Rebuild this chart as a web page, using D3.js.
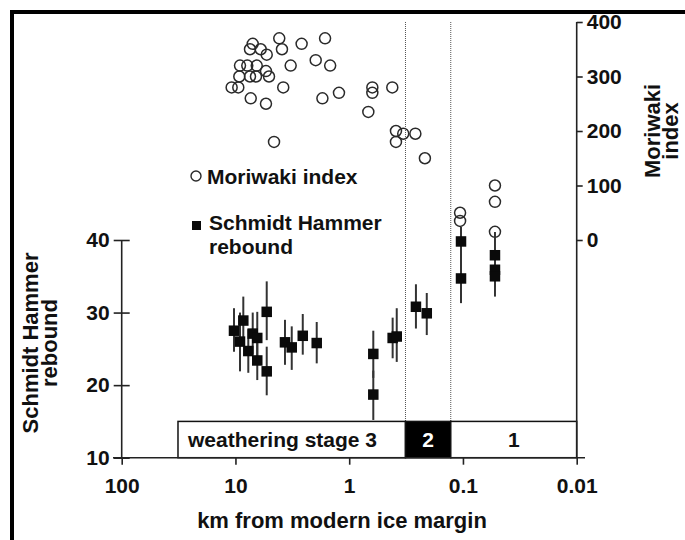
<!DOCTYPE html>
<html>
<head>
<meta charset="utf-8">
<script src="https://cdn.jsdelivr.net/npm/d3@7"></script>
<style>
  body { margin: 0; background: #fff; }
  svg { display: block; font-family: "Liberation Sans", Arial, Helvetica, sans-serif; font-weight: bold; }
  .axis line, .axis-line { stroke: #222; stroke-width: 1.6; }
  .axis text { font-size: 21px; font-weight: bold; fill: #111; }
  .title { font-size: 22px; font-weight: bold; fill: #111; }
</style>
</head>
<body>
<svg></svg>
<script>
const width = 685;
const height = 540;

// Moriwaki index (open circles)
const moriDist = [7.05, 4.12, 1.63, 7.45, 6.0, 5.31, 3.9, 2.62, 9.12, 7.87, 6.5, 3.27, 1.97, 1.47,
    9.25, 7.45, 6.6, 5.07, 5.39, 10.8, 9.44, 3.8, 7.34, 5.39, 1.72, 1.23, 0.626, 0.626, 0.418,
    0.679, 0.388, 0.335, 0.262, 0.388, 4.58, 0.216, 0.106, 0.106, 0.0523, 0.0523, 0.0523];
const moriValue = [360, 370, 370, 350, 350, 340, 350, 360, 320, 320, 320, 320, 330, 320,
    300, 300, 300, 300, 310, 280, 280, 280, 260, 250, 260, 270, 280, 270, 280,
    235, 200, 195, 195, 180, 180, 150, 50, 35, 100, 70, 15];

// Schmidt Hammer rebound (filled squares with range bars)
const shDist = [10.3, 8.53, 9.12, 7.71, 7.05, 6.43, 6.43, 5.31, 5.31, 3.67, 3.2, 2.56, 1.93,
    0.614, 0.614, 0.415, 0.382, 0.259, 0.208, 0.104, 0.104, 0.0523, 0.0523, 0.0523];
const shValue = [27.5, 28.9, 26.0, 24.7, 27.1, 26.5, 23.4, 30.1, 21.9, 25.9, 25.2, 26.8, 25.8,
    24.3, 18.7, 26.5, 26.7, 30.8, 29.9, 39.8, 34.7, 37.9, 35.9, 35.0];
const shLow = [24.6, 25.6, 21.9, 21.7, 24.2, 23.0, 20.7, 26.2, 18.6, 22.8, 22.1, 24.2, 23.0,
    21.0, 15.2, 23.7, 23.2, 27.8, 26.9, 37.5, 31.3, 34.7, 33.5, 32.2];
const shHigh = [30.6, 32.2, 30.0, 27.7, 30.0, 30.1, 26.1, 34.3, 25.3, 29.0, 28.1, 29.8, 28.7,
    27.5, 22.0, 29.3, 30.6, 33.9, 32.7, 41.8, 38.0, 41.1, 38.3, 37.8];

const xTicks = [100, 10, 1, 0.1, 0.01];
const xTickLabels = ["100", "10", "1", "0.1", "0.01"];
const shTicks = [10, 20, 30, 40];
const moriTicks = [0, 100, 200, 300, 400];

// weathering stage bar: boundaries in km, labels per segment
const stageBounds = [32, 0.32, 0.128, 0.01];
const stageLabels = ["weathering stage 3", "2", "1"];
const stageTop = 15;

const svg = d3.select("svg")
    .attr("width", width)
    .attr("height", height);

const x = d3.scaleLog().domain([100, 0.01]).range([121.7, 576.7]);
const yS = d3.scaleLinear().domain([10, 40]).range([457.7, 240]);
const yM = d3.scaleLinear().domain([0, 400]).range([240, 22]);

// frame (cropped on right and bottom)
svg.append("rect")
    .attr("x", 12).attr("y", 12)
    .attr("width", width + 20).attr("height", height + 20)
    .attr("fill", "none")
    .attr("stroke", "#000")
    .attr("stroke-width", 4);

// dotted stage boundaries
svg.selectAll(".stage-line")
    .data(stageBounds.slice(1, 3))
    .join("line")
    .attr("x1", d => x(d)).attr("x2", d => x(d))
    .attr("y1", yM(400)).attr("y2", yS(stageTop))
    .attr("stroke", "#555")
    .attr("stroke-width", 1)
    .attr("stroke-dasharray", "1,1");

// stage box
const stages = stageLabels.map((label, i) => ({ label, x0: stageBounds[i], x1: stageBounds[i + 1], i }));
const stageG = svg.append("g");
stageG.selectAll("rect")
    .data(stages)
    .join("rect")
    .attr("x", d => x(d.x0))
    .attr("width", d => x(d.x1) - x(d.x0))
    .attr("y", yS(stageTop))
    .attr("height", yS(10) - yS(stageTop))
    .attr("fill", d => d.i === 1 ? "#000" : "#fff")
    .attr("stroke", "#111")
    .attr("stroke-width", 1.5);
stageG.selectAll("text")
    .data(stages)
    .join("text")
    .attr("x", d => d.i === 0 ? x(d.x0) + 10 : (x(d.x0) + x(d.x1)) / 2)
    .attr("y", (yS(stageTop) + yS(10)) / 2)
    .attr("dy", "0.36em")
    .attr("text-anchor", d => d.i === 0 ? "start" : "middle")
    .attr("fill", d => d.i === 1 ? "#fff" : "#111")
    .attr("font-size", 21)
    .text(d => d.label);

// axes
const xAxis = svg.append("g")
    .attr("class", "axis")
    .attr("transform", `translate(0,${yS(10)})`)
    .call(d3.axisBottom(x).tickValues(xTicks)
        .tickFormat((d, i) => xTickLabels[i])
        .tickSize(7).tickSizeOuter(0).tickPadding(13))
    .call(g => g.select(".domain").remove());
xAxis.append("line")
    .attr("class", "axis-line")
    .attr("x1", 113).attr("x2", 585);

const yLeft = svg.append("g")
    .attr("class", "axis")
    .attr("transform", `translate(${x(100)},0)`)
    .call(d3.axisLeft(yS).tickValues(shTicks).tickSize(8).tickSizeOuter(0).tickPadding(4))
    .call(g => g.select(".domain").remove());
yLeft.selectAll(".tick line").attr("x1", 8);
yLeft.append("line")
    .attr("class", "axis-line")
    .attr("y1", yS(40)).attr("y2", yS(10));

const yRight = svg.append("g")
    .attr("class", "axis")
    .attr("transform", `translate(${x(0.01)},0)`)
    .call(d3.axisRight(yM).tickValues(moriTicks).tickSize(6).tickSizeOuter(0).tickPadding(4))
    .call(g => g.select(".domain").remove());
yRight.append("line")
    .attr("class", "axis-line")
    .attr("y1", yM(400)).attr("y2", yS(10));

svg.selectAll(".axis").attr("font-size", null).attr("font-family", null);

// Moriwaki circles
svg.append("g")
    .selectAll("circle")
    .data(moriDist.map((d, i) => [d, moriValue[i]]))
    .join("circle")
    .attr("cx", d => x(d[0]))
    .attr("cy", d => yM(d[1]))
    .attr("r", 5.5)
    .attr("fill", "none")
    .attr("stroke", "#2a2a2a")
    .attr("stroke-width", 1.5);

// Schmidt Hammer bars and squares
const sh = shDist.map((d, i) => ({ d, v: shValue[i], lo: shLow[i], hi: shHigh[i] }));
svg.append("g")
    .selectAll("line")
    .data(sh)
    .join("line")
    .attr("x1", d => x(d.d)).attr("x2", d => x(d.d))
    .attr("y1", d => yS(d.lo)).attr("y2", d => yS(d.hi))
    .attr("stroke", "#333")
    .attr("stroke-width", 2);
const sq = 10.5;
svg.append("g")
    .selectAll("rect")
    .data(sh)
    .join("rect")
    .attr("x", d => x(d.d) - sq / 2)
    .attr("y", d => yS(d.v) - sq / 2)
    .attr("width", sq).attr("height", sq)
    .attr("fill", "#0a0a0a");

// legend
const legend = svg.append("g").attr("font-size", 21).attr("fill", "#111");
legend.append("circle")
    .attr("cx", 196).attr("cy", 176).attr("r", 5)
    .attr("fill", "none").attr("stroke", "#2a2a2a").attr("stroke-width", 1.4);
legend.append("text").attr("x", 207).attr("y", 184).text("Moriwaki index");
legend.append("rect")
    .attr("x", 192).attr("y", 221).attr("width", 9).attr("height", 9)
    .attr("fill", "#0a0a0a");
legend.append("text").attr("x", 209).attr("y", 230).text("Schmidt Hammer");
legend.append("text").attr("x", 209).attr("y", 254).text("rebound");

// axis titles
svg.append("text")
    .attr("class", "title")
    .attr("x", 342).attr("y", 528)
    .attr("text-anchor", "middle")
    .text("km from modern ice margin");

svg.append("text")
    .attr("class", "title")
    .attr("transform", "translate(38,343) rotate(-90)")
    .attr("text-anchor", "middle")
    .call(t => {
        t.append("tspan").attr("x", 0).attr("y", 0).text("Schmidt Hammer");
        t.append("tspan").attr("x", 0).attr("y", 19).text("rebound");
    });

svg.append("text")
    .attr("class", "title")
    .attr("transform", "translate(660,131) rotate(-90)")
    .attr("text-anchor", "middle")
    .call(t => {
        t.append("tspan").attr("x", 0).attr("y", 0).text("Moriwaki");
        t.append("tspan").attr("x", 0).attr("y", 18).text("index");
    });
</script>
</body>
</html>
